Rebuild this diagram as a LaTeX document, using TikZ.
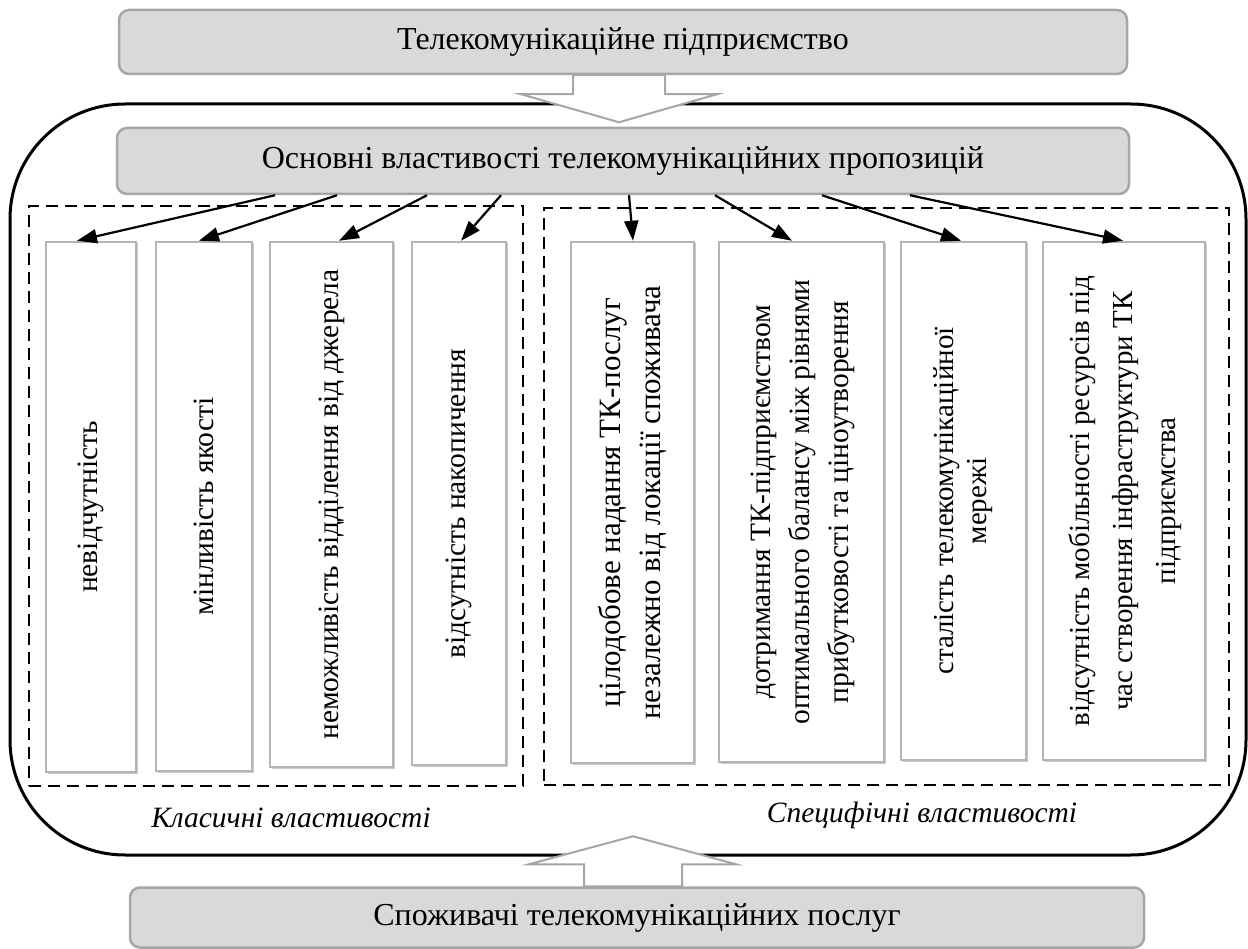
\documentclass[tikz,border=0pt]{standalone}
\usepackage{fontspec}
\setmainfont{Liberation Serif}
\usetikzlibrary{arrows.meta,calc,shadows}
\definecolor{boxgray}{HTML}{D9D9D9}
\definecolor{edgegray}{HTML}{A6A6A6}
\definecolor{celledge}{HTML}{B4B4B4}
\begin{document}
\begin{tikzpicture}[x=1pt,y=-1pt,
  headbox/.style={draw=edgegray, fill=boxgray, line width=2.5pt, rounded corners=10pt,
    inner sep=0pt, font=\fontsize{32}{38}\selectfont},
  cell/.style={draw=celledge, fill=white, line width=2.5pt, inner sep=0pt,
    drop shadow={shadow xshift=1.5pt, shadow yshift=-1.5pt, fill=gray!60, opacity=0.7}},
  group/.style={draw=black, dash pattern=on 12pt off 7pt, line width=1.8pt, inner sep=0pt},
  link/.style={line width=2.2pt, -{Triangle[length=20pt,width=14pt]}},
  bigarrow/.style={draw=edgegray, fill=white, line width=2pt},
  caption/.style={font=\fontsize{29.5}{35}\selectfont\itshape}
]
\useasboundingbox (0,0) rectangle (1248,949);

% enclosing frame
\draw[line width=3pt, rounded corners=115pt] (10,104) rectangle (1246,855);

% dashed groups
\node[group, minimum width=494pt, minimum height=580pt] (classicgrp) at (276,496) {};
\node[group, minimum width=685pt, minimum height=577pt] (specgrp) at (886.5,496.5) {};

% top and bottom boxes
\node[headbox, minimum width=1008pt, minimum height=64pt] (firm) at (623,42) {Телекомунікаційне підприємство};
\node[headbox, minimum width=1012pt, minimum height=66pt] (core) at (623,161) {Основні властивості телекомунікаційних пропозицій};
\node[headbox, minimum width=1014pt, minimum height=60pt] (users) at (637,917.5) {Споживачі телекомунікаційних послуг};

% block arrows
\draw[bigarrow] ($(firm.south)+(-50,0)$) -- ++(0,19) -- ++(-52,0) -- ++(98,28)
  -- ++(98,-28) -- ++(-52,0) -- ++(0,-19) -- cycle;
\draw[bigarrow] ($(users.north)+(-53,0)$) -- ++(0,-22) -- ++(-55,0) -- ++(104,-28)
  -- ++(103,28) -- ++(-54,0) -- ++(0,22) -- cycle;

% classic properties
\node[cell, minimum width=90pt, minimum height=530pt] (b1) at (91,507)
  {\rotatebox{90}{\fontsize{29.5}{40}\selectfont невідчутність}};
\node[cell, minimum width=96pt, minimum height=529pt] (b2) at (204,506.5)
  {\rotatebox{90}{\fontsize{29.5}{40}\selectfont мінливість якості}};
\node[cell, minimum width=123pt, minimum height=525pt] (b3) at (331.5,504.5)
  {\rotatebox{90}{\fontsize{29.5}{40}\selectfont неможливість відділення від джерела}};
\node[cell, minimum width=94pt, minimum height=523pt] (b4) at (459,503.5)
  {\rotatebox{90}{\fontsize{29.5}{40}\selectfont відсутність накопичення}};

% specific properties
\node[cell, minimum width=123pt, minimum height=521pt] (b5) at (632.5,502.5)
  {\rotatebox{90}{\fontsize{31}{40}\selectfont\begin{tabular}{@{}c@{}}цілодобове надання ТК-послуг\\незалежно від локації споживача\end{tabular}}};
\node[cell, minimum width=165pt, minimum height=520pt] (b6) at (801.5,502)
  {\rotatebox{90}{\fontsize{29.5}{39}\selectfont\begin{tabular}{@{}c@{}}дотримання ТК-підприємством\\оптимального балансу між рівнями\\прибутковості та ціноутворення\end{tabular}}};
\node[cell, minimum width=125pt, minimum height=518pt] (b7) at (963.5,501)
  {\rotatebox{90}{\fontsize{29}{33}\selectfont\begin{tabular}{@{}c@{}}сталість телекомунікаційної\\мережі\end{tabular}}};
\node[cell, minimum width=162pt, minimum height=518pt] (b8) at (1124,501)
  {\rotatebox{90}{\fontsize{29}{43}\selectfont\begin{tabular}{@{}c@{}}відсутність мобільності ресурсів під\\час створення інфраструктури ТК\\підприємства\end{tabular}}};

% links from the core box
\draw[link] ([xshift=-348pt]core.south) -- ([xshift=-14pt]b1.north);
\draw[link] ([xshift=-286pt]core.south) -- ([xshift=-5pt]b2.north);
\draw[link] ([xshift=-196pt]core.south) -- ([xshift=7.5pt]b3.north);
\draw[link] ([xshift=-122pt]core.south) -- ([xshift=2pt]b4.north);
\draw[link] ([xshift=6pt]core.south) -- ([xshift=0.5pt]b5.north);
\draw[link] ([xshift=92pt]core.south) -- ([xshift=-9.5pt]b6.north);
\draw[link] ([xshift=199pt]core.south) -- ([xshift=-2.5pt]b7.north);
\draw[link] ([xshift=287pt]core.south) -- ([xshift=-1pt]b8.north);

% group captions
\node[caption] (classic) at (291,818) {Класичні властивості};
\node[caption] (specific) at (922,815) {Специфічні властивості};
\end{tikzpicture}
\end{document}
